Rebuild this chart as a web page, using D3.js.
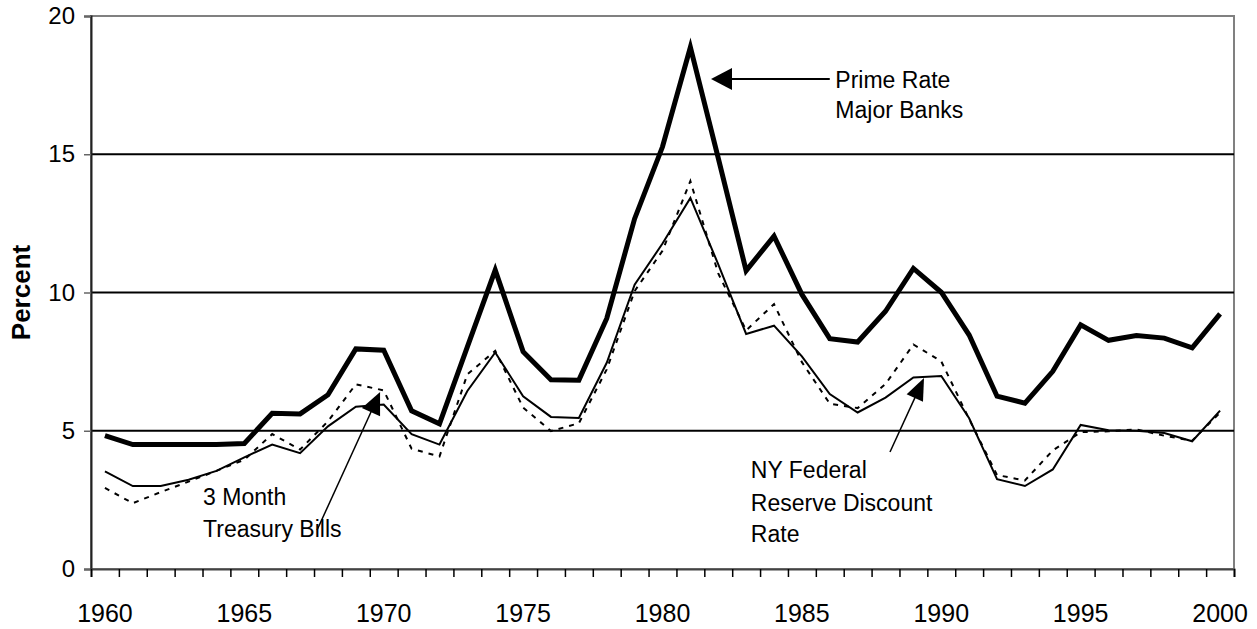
<!DOCTYPE html>
<html>
<head>
<meta charset="utf-8">
<script src="https://cdn.jsdelivr.net/npm/d3@7"></script>
<style>
  body { margin: 0; background: #fff; }
  text { font-family: "Liberation Sans", Arial, sans-serif; fill: #000; }
</style>
</head>
<body>
<div id="chart"></div>
<script>
// years on the category axis
var years = d3.range(1960, 2001);

// prime rate, major banks (thick line)
var primeRate = [4.82, 4.50, 4.50, 4.50, 4.50, 4.54, 5.63, 5.61, 6.30, 7.96,
  7.91, 5.72, 5.25, 8.03, 10.81, 7.86, 6.84, 6.83, 9.06, 12.67,
  15.27, 18.87, 14.86, 10.79, 12.04, 9.93, 8.33, 8.21, 9.32, 10.87,
  10.01, 8.46, 6.25, 6.00, 7.15, 8.83, 8.27, 8.44, 8.35, 8.00, 9.23];

// 3 month treasury bills (dashed line)
var treasuryBills = [2.93, 2.38, 2.78, 3.16, 3.55, 3.95, 4.88, 4.32, 5.34, 6.68,
  6.46, 4.35, 4.07, 7.04, 7.89, 5.84, 4.99, 5.27, 7.22, 10.05,
  11.51, 14.03, 10.69, 8.63, 9.58, 7.48, 5.98, 5.82, 6.69, 8.12,
  7.51, 5.42, 3.40, 3.20, 4.29, 4.95, 4.98, 5.05, 4.82, 4.64, 5.66];

// NY federal reserve discount rate (thin solid line)
var discountRate = [3.53, 3.00, 3.00, 3.23, 3.55, 4.04, 4.50, 4.19, 5.16, 5.87,
  5.95, 4.88, 4.50, 6.44, 7.83, 6.25, 5.50, 5.46, 7.46, 10.28,
  11.77, 13.42, 11.02, 8.50, 8.80, 7.69, 6.33, 5.66, 6.20, 6.93,
  6.98, 5.45, 3.25, 3.00, 3.60, 5.21, 5.02, 5.00, 4.92, 4.62, 5.73];

var yTicks = [0, 5, 10, 15, 20];
var xLabels = [1960, 1965, 1970, 1975, 1980, 1985, 1990, 1995, 2000];

var svgWidth = 1257;
var svgHeight = 629;
var margin = { top: 16, right: 23, bottom: 60, left: 91 };
var width = svgWidth - margin.left - margin.right;
var height = svgHeight - margin.top - margin.bottom;

var svg = d3.select("#chart")
  .append("svg")
  .attr("width", svgWidth)
  .attr("height", svgHeight);

var chartGroup = svg.append("g")
  .attr("transform", `translate(${margin.left}, ${margin.top})`);

// category edges: 1960 .. 2001, points sit in the middle of each category
var xEdge = d3.scaleLinear().domain([1960, 2001]).range([0, width]);
var xMid = yr => xEdge(yr + 0.5);
var yScale = d3.scaleLinear().domain([0, 20]).range([height, 0]);

// plot border (grey)
chartGroup.append("rect")
  .attr("x", 0).attr("y", 0)
  .attr("width", width).attr("height", height)
  .attr("fill", "none")
  .attr("stroke", "#808080")
  .attr("stroke-width", 2);

// gridlines
chartGroup.selectAll("line.grid")
  .data([5, 10, 15])
  .enter()
  .append("line")
  .attr("class", "grid")
  .attr("x1", 0).attr("x2", width)
  .attr("y1", d => yScale(d)).attr("y2", d => yScale(d))
  .attr("stroke", "#000")
  .attr("stroke-width", 2);

// y axis
var yAxis = d3.axisLeft(yScale).tickValues(yTicks).tickSize(7).tickPadding(9);
var yg = chartGroup.append("g").call(yAxis);
yg.select(".domain").attr("stroke", "#222").attr("stroke-width", 2);
yg.selectAll(".tick line").attr("stroke", "#666").attr("stroke-width", 1.5);
yg.selectAll("text").style("font-size", "24px").attr("font-family", null);

// x axis: tick at every category edge, labels centered on categories
var xAxis = d3.axisBottom(xEdge)
  .tickValues(d3.range(1960, 2002))
  .tickSize(8)
  .tickFormat("");
var xg = chartGroup.append("g")
  .attr("transform", `translate(0, ${height})`)
  .call(xAxis);
xg.select(".domain").attr("stroke", "#444").attr("stroke-width", 2);
xg.selectAll(".tick line").attr("stroke", "#000").attr("stroke-width", 1.5);

chartGroup.selectAll("text.xlab")
  .data(xLabels)
  .enter()
  .append("text")
  .attr("class", "xlab")
  .attr("x", d => xMid(d))
  .attr("y", height + 53)
  .attr("text-anchor", "middle")
  .style("font-size", "25px")
  .text(d => d);

// y axis title
svg.append("text")
  .attr("transform", `translate(30, ${margin.top + yScale(10)}) rotate(-90)`)
  .attr("text-anchor", "middle")
  .style("font-size", "26px")
  .style("font-weight", "bold")
  .text("Percent");

// lines
var lineGen = d3.line()
  .x((d, i) => xMid(years[i]))
  .y(d => yScale(d));

chartGroup.append("path")
  .datum(treasuryBills)
  .attr("d", lineGen)
  .attr("fill", "none")
  .attr("stroke", "#000")
  .attr("stroke-width", 2)
  .attr("stroke-dasharray", "5,6");

chartGroup.append("path")
  .datum(discountRate)
  .attr("d", lineGen)
  .attr("fill", "none")
  .attr("stroke", "#000")
  .attr("stroke-width", 2);

chartGroup.append("path")
  .datum(primeRate)
  .attr("d", lineGen)
  .attr("fill", "none")
  .attr("stroke", "#000")
  .attr("stroke-width", 5)
  .attr("stroke-linejoin", "miter");

// annotations, in data units (fractional year, percent)
var annotations = [
  { tail: [1986.0, 17.72], tip: [1981.74, 17.72], width: 2, head: 21, half: 11,
    textX: 1986.2, lines: ["Prime Rate", "Major Banks"], baselines: [17.38, 16.31] },
  { tail: [1967.61, 1.41], tip: [1969.87, 6.40], width: 1.5, head: 22, half: 10,
    textX: 1963.52, lines: ["3 Month", "Treasury Bills"], baselines: [2.31, 1.16] },
  { tail: [1988.16, 4.23], tip: [1989.38, 6.91], width: 1.5, head: 22, half: 9,
    textX: 1983.17, lines: ["NY Federal", "Reserve Discount", "Rate"], baselines: [3.29, 2.10, 0.98] }
];

annotations.forEach(function (a) {
  var x0 = xMid(a.tail[0]), y0 = yScale(a.tail[1]);
  var x1 = xMid(a.tip[0]), y1 = yScale(a.tip[1]);
  var len = Math.hypot(x1 - x0, y1 - y0);
  var ux = (x1 - x0) / len, uy = (y1 - y0) / len;
  var bx = x1 - ux * a.head, by = y1 - uy * a.head;

  chartGroup.append("line")
    .attr("x1", x0).attr("y1", y0)
    .attr("x2", bx + ux * 2).attr("y2", by + uy * 2)
    .attr("stroke", "#000")
    .attr("stroke-width", a.width);

  chartGroup.append("path")
    .attr("d", `M${x1},${y1}L${bx - uy * a.half},${by + ux * a.half}L${bx + uy * a.half},${by - ux * a.half}Z`)
    .attr("fill", "#000");

  a.lines.forEach(function (t, i) {
    chartGroup.append("text")
      .attr("x", xMid(a.textX))
      .attr("y", yScale(a.baselines[i]))
      .style("font-size", "23px")
      .text(t);
  });
});
</script>
</body>
</html>
